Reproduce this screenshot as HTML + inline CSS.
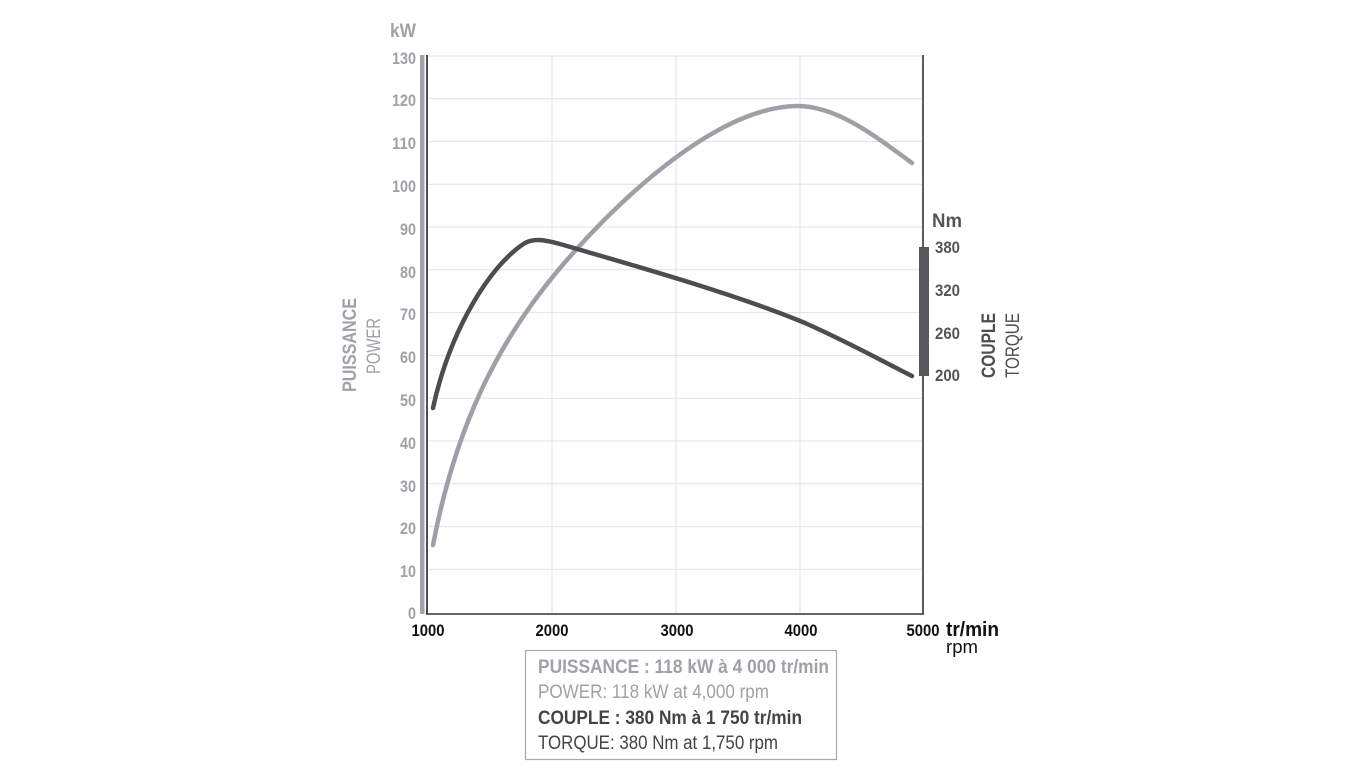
<!DOCTYPE html>
<html><head><meta charset="utf-8"><style>
html,body{margin:0;padding:0;background:#fff;}
svg{display:block;}
text{font-family:"Liberation Sans",sans-serif;}
</style></head><body>
<svg width="1366" height="768" viewBox="0 0 1366 768" xmlns="http://www.w3.org/2000/svg">
<g stroke="#e2e2e6" stroke-width="1">
<line x1="428" y1="56" x2="922" y2="56"/>
<line x1="428" y1="98.6" x2="922" y2="98.6"/>
<line x1="428" y1="141.4" x2="922" y2="141.4"/>
<line x1="428" y1="184.2" x2="922" y2="184.2"/>
<line x1="428" y1="227" x2="922" y2="227"/>
<line x1="428" y1="269.8" x2="922" y2="269.8"/>
<line x1="428" y1="312.6" x2="922" y2="312.6"/>
<line x1="428" y1="355.4" x2="922" y2="355.4"/>
<line x1="428" y1="398.2" x2="922" y2="398.2"/>
<line x1="428" y1="441" x2="922" y2="441"/>
<line x1="428" y1="483.8" x2="922" y2="483.8"/>
<line x1="428" y1="526.6" x2="922" y2="526.6"/>
<line x1="428" y1="569.4" x2="922" y2="569.4"/>
<line x1="552" y1="56" x2="552" y2="613"/>
<line x1="676" y1="56" x2="676" y2="613"/>
<line x1="800" y1="56" x2="800" y2="613"/>
</g>
<rect x="420" y="55" width="4.5" height="559" fill="#a4a3ab"/>
<line x1="427" y1="55" x2="427" y2="614" stroke="#222" stroke-width="1.6"/>
<line x1="426" y1="614" x2="924" y2="614" stroke="#333" stroke-width="1.6"/>
<line x1="923" y1="55" x2="923" y2="614" stroke="#333" stroke-width="1.6"/>
<rect x="919" y="247" width="10" height="129" fill="#55575a"/>
<path d="M433,545 C455,430 495,345 560,268 C625,192 720,107 797,106 C835,106 870,132 912,163" fill="none" stroke="#a09fa8" stroke-width="4.5" stroke-linecap="round"/>
<path d="M433,408 C450,330 490,265 525,243 C535,238 545,240 560,244 C650,270 740,296 805,323 C850,343 880,360 912,376" fill="none" stroke="#4b4d50" stroke-width="4.5" stroke-linecap="round"/>
<g font-size="17" font-weight="bold" fill="#a0a0a8" text-anchor="end" lengthAdjust="spacingAndGlyphs">
<text x="416" y="64" textLength="24" lengthAdjust="spacingAndGlyphs">130</text>
<text x="416" y="106" textLength="24" lengthAdjust="spacingAndGlyphs">120</text>
<text x="416" y="149" textLength="24" lengthAdjust="spacingAndGlyphs">110</text>
<text x="416" y="192" textLength="24" lengthAdjust="spacingAndGlyphs">100</text>
<text x="416" y="235" textLength="16" lengthAdjust="spacingAndGlyphs">90</text>
<text x="416" y="278" textLength="16" lengthAdjust="spacingAndGlyphs">80</text>
<text x="416" y="320" textLength="16" lengthAdjust="spacingAndGlyphs">70</text>
<text x="416" y="363" textLength="16" lengthAdjust="spacingAndGlyphs">60</text>
<text x="416" y="406" textLength="16" lengthAdjust="spacingAndGlyphs">50</text>
<text x="416" y="449" textLength="16" lengthAdjust="spacingAndGlyphs">40</text>
<text x="416" y="492" textLength="16" lengthAdjust="spacingAndGlyphs">30</text>
<text x="416" y="534" textLength="16" lengthAdjust="spacingAndGlyphs">20</text>
<text x="416" y="577" textLength="16" lengthAdjust="spacingAndGlyphs">10</text>
<text x="416" y="619" textLength="8" lengthAdjust="spacingAndGlyphs">0</text>
</g>
<text x="390" y="37" font-size="19" font-weight="bold" fill="#a0a0a8" textLength="26" lengthAdjust="spacingAndGlyphs">kW</text>
<text transform="translate(356,392) rotate(-90)" font-size="19" font-weight="bold" fill="#a0a0a8" textLength="94" lengthAdjust="spacingAndGlyphs">PUISSANCE</text>
<text transform="translate(380,374) rotate(-90)" font-size="19" fill="#a0a0a8" textLength="56" lengthAdjust="spacingAndGlyphs">POWER</text>
<g font-size="17" font-weight="bold" fill="#111" text-anchor="middle">
<text x="428" y="636" textLength="33" lengthAdjust="spacingAndGlyphs">1000</text>
<text x="552" y="636" textLength="33" lengthAdjust="spacingAndGlyphs">2000</text>
<text x="677" y="636" textLength="33" lengthAdjust="spacingAndGlyphs">3000</text>
<text x="801" y="636" textLength="33" lengthAdjust="spacingAndGlyphs">4000</text>
<text x="923" y="636" textLength="33" lengthAdjust="spacingAndGlyphs">5000</text>
</g>
<text x="946" y="636" font-size="20" font-weight="bold" fill="#111" textLength="53" lengthAdjust="spacingAndGlyphs">tr/min</text>
<text x="946" y="653" font-size="18" fill="#111" textLength="32" lengthAdjust="spacingAndGlyphs">rpm</text>
<text x="932" y="227" font-size="19" font-weight="bold" fill="#555" textLength="30" lengthAdjust="spacingAndGlyphs">Nm</text>
<g font-size="17" font-weight="bold" fill="#555">
<text x="935" y="253" textLength="25" lengthAdjust="spacingAndGlyphs">380</text>
<text x="935" y="296" textLength="25" lengthAdjust="spacingAndGlyphs">320</text>
<text x="935" y="339" textLength="25" lengthAdjust="spacingAndGlyphs">260</text>
<text x="935" y="381" textLength="25" lengthAdjust="spacingAndGlyphs">200</text>
</g>
<text transform="translate(995,378) rotate(-90)" font-size="19" font-weight="bold" fill="#4b4d50" textLength="65" lengthAdjust="spacingAndGlyphs">COUPLE</text>
<text transform="translate(1019,378) rotate(-90)" font-size="19" fill="#4b4d50" textLength="65" lengthAdjust="spacingAndGlyphs">TORQUE</text>
<rect x="525.5" y="650.5" width="311" height="109" fill="#fff" stroke="#aaa" stroke-width="1.2"/>
<text x="538" y="673" font-size="19" font-weight="bold" fill="#a0a0a8" textLength="291" lengthAdjust="spacingAndGlyphs">PUISSANCE : 118 kW à 4 000 tr/min</text>
<text x="538" y="698" font-size="19" fill="#a0a0a8" textLength="231" lengthAdjust="spacingAndGlyphs">POWER: 118 kW at 4,000 rpm</text>
<text x="538" y="724" font-size="19" font-weight="bold" fill="#444" textLength="264" lengthAdjust="spacingAndGlyphs">COUPLE : 380 Nm à 1 750 tr/min</text>
<text x="538" y="749" font-size="19" fill="#444" textLength="240" lengthAdjust="spacingAndGlyphs">TORQUE: 380 Nm at 1,750 rpm</text>
</svg>
</body></html>
